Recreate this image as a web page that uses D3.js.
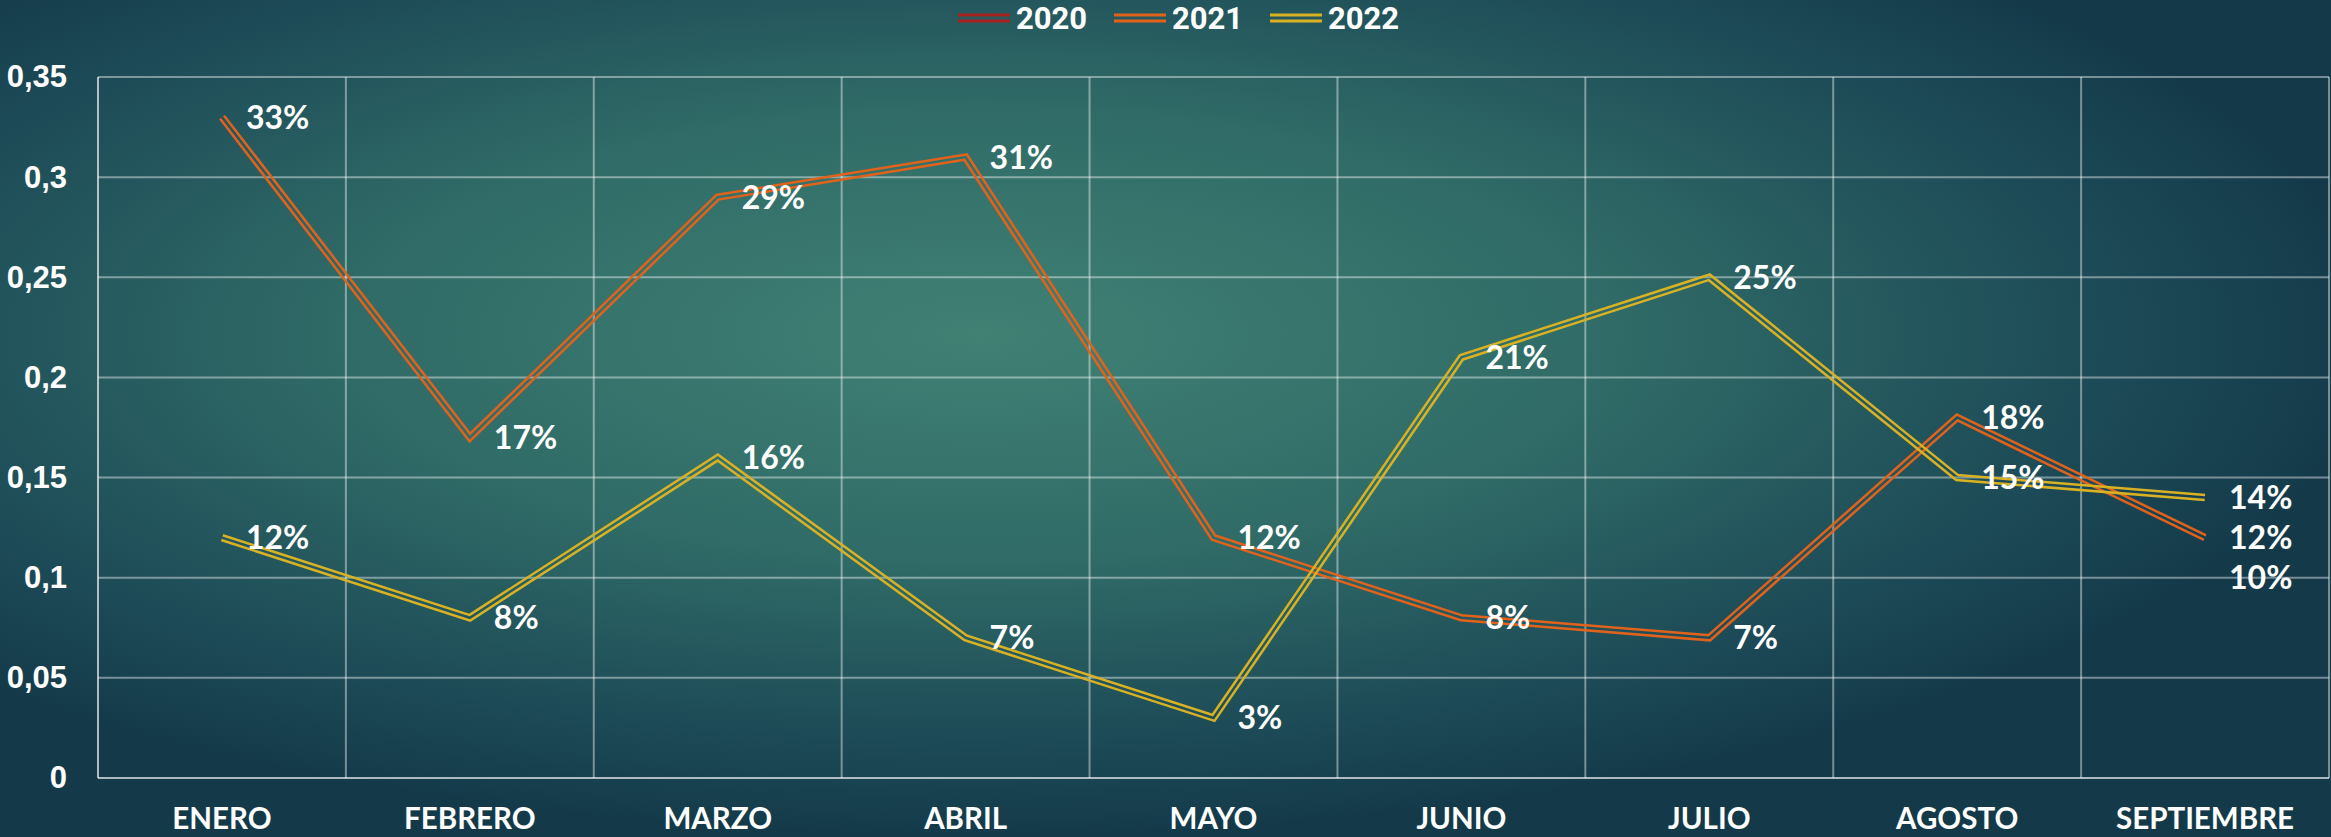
<!DOCTYPE html>
<html>
<head>
<meta charset="utf-8">
<script src="https://cdn.jsdelivr.net/npm/d3@7"></script>
<style>
  html, body { margin: 0; padding: 0; background: #1d4b56; }
  svg { display: block; }
</style>
</head>
<body>
<div id="chart"></div>
<script>
  ////// Data /////////////
  var categories = ["ENERO", "FEBRERO", "MARZO", "ABRIL", "MAYO", "JUNIO", "JULIO", "AGOSTO", "SEPTIEMBRE"];
  var seriesNames = ["2020", "2021", "2022"];
  var seriesColors = ["#a8201f", "#e2621b", "#d9b224"];
  var values2020 = [null, null, null, null, null, null, null, null, 0.10];
  var values2021 = [0.33, 0.17, 0.29, 0.31, 0.12, 0.08, 0.07, 0.18, 0.12];
  var values2022 = [0.12, 0.08, 0.16, 0.07, 0.03, 0.21, 0.25, 0.15, 0.14];
  var yTicks = [0, 0.05, 0.1, 0.15, 0.2, 0.25, 0.3, 0.35];

  var allValues = [values2020, values2021, values2022];

  var W = 2331, H = 837;
  var margin = {top: 77, right: 2, bottom: 59, left: 98};
  var width = W - margin.left - margin.right,
      height = H - margin.top - margin.bottom;

  var outerW = 7.5, innerW = 2.5; // double ("compound") line

  ////// Scales /////////////
  var xScale = d3.scaleBand()
      .domain(categories)
      .range([0, width]);
  var yScale = d3.scaleLinear()
      .domain([0, 0.35])
      .range([height, 0]);

  var svg = d3.select("#chart").append("svg")
      .attr("width", W)
      .attr("height", H);

  var defs = svg.append("defs");

  // background gradient
  var bg = defs.append("radialGradient")
      .attr("id", "bg")
      .attr("cx", "42%").attr("cy", "40%").attr("r", "60%");
  bg.append("stop").attr("offset", "0%").attr("stop-color", "#408174");
  bg.append("stop").attr("offset", "45%").attr("stop-color", "#306b67");
  bg.append("stop").attr("offset", "80%").attr("stop-color", "#1d4b57");
  bg.append("stop").attr("offset", "100%").attr("stop-color", "#143a4a");

  svg.append("rect")
      .attr("width", W).attr("height", H)
      .attr("fill", "url(#bg)");

  var g = svg.append("g")
      .attr("transform", "translate(" + margin.left + "," + margin.top + ")");

  ////// Gridlines /////////////
  g.append("g")
      .selectAll("line.hgrid")
      .data(yTicks.filter(function(d) { return d > 0; }))
      .enter()
      .append("line")
      .attr("class", "hgrid")
      .attr("x1", 0).attr("x2", width)
      .attr("y1", function(d) { return yScale(d); })
      .attr("y2", function(d) { return yScale(d); })
      .attr("stroke", "rgba(255,255,255,0.42)")
      .attr("stroke-width", 2);

  g.append("g")
      .selectAll("line.vgrid")
      .data(categories)
      .enter()
      .append("line")
      .attr("class", "vgrid")
      .attr("x1", function(d) { return xScale(d) + xScale.bandwidth(); })
      .attr("x2", function(d) { return xScale(d) + xScale.bandwidth(); })
      .attr("y1", 0).attr("y2", height)
      .attr("stroke", "rgba(255,255,255,0.42)")
      .attr("stroke-width", 2);

  // axis lines
  g.append("line")
      .attr("x1", 0).attr("x2", 0).attr("y1", 0).attr("y2", height)
      .attr("stroke", "rgba(255,255,255,0.65)").attr("stroke-width", 2);
  g.append("line")
      .attr("x1", 0).attr("x2", width).attr("y1", height).attr("y2", height)
      .attr("stroke", "rgba(255,255,255,0.65)").attr("stroke-width", 2);

  ////// Axes /////////////
  var yAxis = d3.axisLeft(yScale)
      .tickValues(yTicks)
      .tickSize(0)
      .tickPadding(31)
      .tickFormat(function(d) { return String(d).replace(".", ","); });

  var yg = g.append("g").call(yAxis);
  yg.select(".domain").remove();
  yg.selectAll("text")
      .attr("fill", "#ffffff")
      .attr("font-family", "'Liberation Sans', Arial, sans-serif")
      .attr("font-weight", "bold")
      .attr("font-size", "31px");

  var xAxis = d3.axisBottom(xScale)
      .tickSize(0)
      .tickPadding(30);

  var xg = g.append("g")
      .attr("transform", "translate(0," + height + ")")
      .call(xAxis);
  xg.select(".domain").remove();
  xg.selectAll("text")
      .attr("fill", "#ffffff")
      .attr("font-family", "Lato, 'Liberation Sans', sans-serif")
      .attr("font-weight", "bold")
      .attr("font-size", "29.5px");

  ////// Lines /////////////
  var line = d3.line()
      .defined(function(d) { return d != null; })
      .x(function(d, i) { return xScale(categories[i]) + xScale.bandwidth() / 2; })
      .y(function(d) { return yScale(d); });

  allValues.forEach(function(vals, k) {
    var mask = defs.append("mask")
        .attr("id", "mask" + k)
        .attr("maskUnits", "userSpaceOnUse")
        .attr("x", -margin.left).attr("y", -margin.top)
        .attr("width", W).attr("height", H);
    mask.append("path")
        .attr("d", line(vals))
        .attr("fill", "none")
        .attr("stroke", "#fff")
        .attr("stroke-width", outerW + 2);
    mask.append("path")
        .attr("d", line(vals))
        .attr("fill", "none")
        .attr("stroke", "#000")
        .attr("stroke-width", innerW);

    g.append("path")
        .attr("d", line(vals))
        .attr("fill", "none")
        .attr("stroke", seriesColors[k])
        .attr("stroke-width", outerW)
        .attr("stroke-linejoin", "miter")
        .attr("mask", "url(#mask" + k + ")");
  });

  ////// Data labels /////////////
  var pct = d3.format(".0%");
  allValues.forEach(function(vals, k) {
    g.append("g")
        .selectAll("text")
        .data(vals.map(function(v, i) { return {v: v, c: categories[i]}; })
                  .filter(function(d) { return d.v != null; }))
        .enter()
        .append("text")
        .attr("x", function(d) { return xScale(d.c) + xScale.bandwidth() / 2 + 24; })
        .attr("y", function(d) { return yScale(d.v); })
        .attr("dy", "0.36em")
        .attr("fill", "#ffffff")
        .attr("font-family", "Lato, 'Liberation Sans', sans-serif")
        .attr("font-weight", "bold")
        .attr("font-size", "32px")
        .text(function(d) { return pct(d.v); });
  });

  ////// Legend /////////////
  var legend = svg.append("g")
      .attr("transform", "translate(958,18)");

  var items = legend.selectAll("g")
      .data(seriesNames)
      .enter()
      .append("g")
      .attr("transform", function(d, i) { return "translate(" + (i * 156) + ",0)"; });

  items.append("line")
      .attr("x1", 0).attr("x2", 52).attr("y1", -3).attr("y2", -3)
      .attr("stroke", function(d, i) { return seriesColors[i]; })
      .attr("stroke-width", 3);
  items.append("line")
      .attr("x1", 0).attr("x2", 52).attr("y1", 3).attr("y2", 3)
      .attr("stroke", function(d, i) { return seriesColors[i]; })
      .attr("stroke-width", 3);
  items.append("text")
      .attr("x", 58)
      .attr("y", 0)
      .attr("dy", "0.36em")
      .attr("fill", "#ffffff")
      .attr("font-family", "Roboto, sans-serif")
      .attr("font-weight", "bold")
      .attr("font-size", "31px")
      .text(function(d) { return d; });
</script>
</body>
</html>
